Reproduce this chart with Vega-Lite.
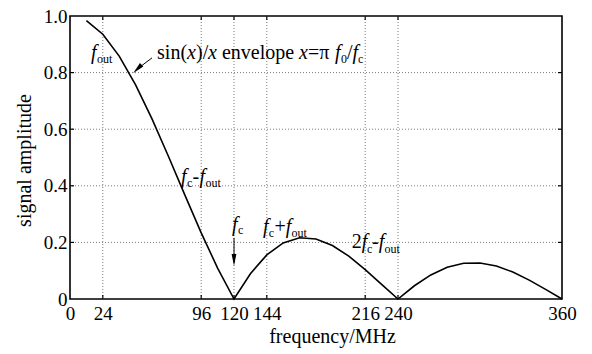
{
  "$schema": "https://vega.github.io/schema/vega-lite/v6.json",
  "width": 492,
  "height": 283,
  "autosize": {"type": "none"},
  "padding": {"left": 70, "top": 16, "right": 30, "bottom": 55},
  "background": "white",
  "config": {
    "view": {"stroke": "black", "strokeWidth": 1.6},
    "axis": {
      "labelFont": "Liberation Serif",
      "titleFont": "Liberation Serif",
      "labelFontSize": 19,
      "titleFontSize": 20,
      "titleFontWeight": "normal",
      "labelColor": "black",
      "titleColor": "black",
      "domain": false,
      "grid": false,
      "ticks": false,
      "labelFlush": false
    },
    "text": {"font": "Liberation Serif", "fill": "black"}
  },
  "datasets": {
    "curve": [
      {"f": 12, "a": 0.9836}, {"f": 24, "a": 0.9355}, {"f": 36, "a": 0.8584},
      {"f": 48, "a": 0.7568}, {"f": 60, "a": 0.6366}, {"f": 72, "a": 0.5046},
      {"f": 84, "a": 0.3679}, {"f": 96, "a": 0.2339}, {"f": 108, "a": 0.1093},
      {"f": 120, "a": 0}, {"f": 132, "a": 0.0894}, {"f": 144, "a": 0.1559},
      {"f": 156, "a": 0.1981}, {"f": 168, "a": 0.2162}, {"f": 180, "a": 0.2122},
      {"f": 192, "a": 0.1892}, {"f": 204, "a": 0.1515}, {"f": 216, "a": 0.1039},
      {"f": 228, "a": 0.0518}, {"f": 240, "a": 0}, {"f": 252, "a": 0.0468},
      {"f": 264, "a": 0.085}, {"f": 276, "a": 0.112}, {"f": 288, "a": 0.1261},
      {"f": 300, "a": 0.1273}, {"f": 312, "a": 0.1164}, {"f": 324, "a": 0.0954},
      {"f": 336, "a": 0.0668}, {"f": 348, "a": 0.0339}, {"f": 360, "a": 0}
    ],
    "xTicks": [{"v": 24}, {"v": 96}, {"v": 120}, {"v": 144}, {"v": 216}, {"v": 240}],
    "yTicks": [{"v": 0.2}, {"v": 0.4}, {"v": 0.6}, {"v": 0.8}],
    "roman": [
      {"x": 63.7, "y": 0.848, "t": "sin("},
      {"x": 92.2, "y": 0.848, "t": ")/"},
      {"x": 111.2, "y": 0.848, "t": "envelope"},
      {"x": 174.1, "y": 0.848, "t": "=π"},
      {"x": 202.7, "y": 0.848, "t": "/"},
      {"x": 89.6, "y": 0.41, "t": "-"},
      {"x": 149.6, "y": 0.233, "t": "+"},
      {"x": 206.2, "y": 0.18, "t": "2"},
      {"x": 221.0, "y": 0.18, "t": "-"}
    ],
    "italic": [
      {"x": 15.4, "y": 0.848, "t": "f"},
      {"x": 85.6, "y": 0.848, "t": "x"},
      {"x": 100.9, "y": 0.848, "t": "x"},
      {"x": 167.6, "y": 0.848, "t": "x"},
      {"x": 193.9, "y": 0.848, "t": "f"},
      {"x": 206.7, "y": 0.848, "t": "f"},
      {"x": 81.2, "y": 0.41, "t": "f"},
      {"x": 94.7, "y": 0.41, "t": "f"},
      {"x": 118.5, "y": 0.24, "t": "f"},
      {"x": 141.2, "y": 0.233, "t": "f"},
      {"x": 157.8, "y": 0.233, "t": "f"},
      {"x": 213.4, "y": 0.18, "t": "f"},
      {"x": 225.9, "y": 0.18, "t": "f"}
    ],
    "sub": [
      {"x": 19.8, "y": 0.834, "t": "out"},
      {"x": 198.3, "y": 0.834, "t": "0"},
      {"x": 210.8, "y": 0.834, "t": "c"},
      {"x": 85.6, "y": 0.396, "t": "c"},
      {"x": 99.1, "y": 0.396, "t": "out"},
      {"x": 122.9, "y": 0.23, "t": "c"},
      {"x": 145.5, "y": 0.219, "t": "c"},
      {"x": 162.0, "y": 0.219, "t": "out"},
      {"x": 217.3, "y": 0.163, "t": "c"},
      {"x": 230.2, "y": 0.163, "t": "out"}
    ],
    "arrows": [
      {"x": 60.0, "y": 0.852, "x2": 49.3, "y2": 0.813},
      {"x": 120, "y": 0.216, "x2": 120, "y2": 0.13}
    ],
    "headDiag": [{"x": 49.3, "y": 0.813}],
    "headDown": [{"x": 120, "y": 0.138}]
  },
  "layer": [
    {
      "data": {"name": "xTicks"},
      "mark": {"type": "rule", "stroke": "#7a7a7a", "strokeWidth": 1, "strokeDash": [1, 2]},
      "encoding": {"x": {"field": "v", "type": "quantitative"}}
    },
    {
      "data": {"name": "yTicks"},
      "mark": {"type": "rule", "stroke": "#7a7a7a", "strokeWidth": 1, "strokeDash": [1, 2]},
      "encoding": {"y": {"field": "v", "type": "quantitative"}}
    },
    {
      "data": {"name": "xTicks"},
      "mark": {"type": "rule", "stroke": "black", "strokeWidth": 1.2},
      "encoding": {
        "x": {"field": "v", "type": "quantitative"},
        "y": {"datum": 0},
        "y2": {"datum": 0.0141}
      }
    },
    {
      "data": {"name": "xTicks"},
      "mark": {"type": "rule", "stroke": "black", "strokeWidth": 1.2},
      "encoding": {
        "x": {"field": "v", "type": "quantitative"},
        "y": {"datum": 1},
        "y2": {"datum": 0.9859}
      }
    },
    {
      "data": {"name": "yTicks"},
      "mark": {"type": "rule", "stroke": "black", "strokeWidth": 1.2},
      "encoding": {
        "y": {"field": "v", "type": "quantitative"},
        "x": {"datum": 0},
        "x2": {"datum": 2.93}
      }
    },
    {
      "data": {"name": "yTicks"},
      "mark": {"type": "rule", "stroke": "black", "strokeWidth": 1.2},
      "encoding": {
        "y": {"field": "v", "type": "quantitative"},
        "x": {"datum": 360},
        "x2": {"datum": 357.07}
      }
    },
    {
      "data": {"name": "curve"},
      "mark": {"type": "line", "stroke": "black", "strokeWidth": 1.6},
      "encoding": {
        "x": {
          "field": "f", "type": "quantitative",
          "scale": {"domain": [0, 360], "nice": false},
          "axis": {
            "orient": "bottom",
            "values": [0, 24, 96, 120, 144, 216, 240, 360],
            "title": "frequency/MHz",
            "labelPadding": 5,
            "titleX": 262,
            "titleY": 43,
            "titleBaseline": "alphabetic",
            "titleAnchor": "start",
            "titleAlign": "center"
          }
        },
        "y": {
          "field": "a", "type": "quantitative",
          "scale": {"domain": [0, 1], "nice": false},
          "axis": {
            "orient": "left",
            "values": [0, 0.2, 0.4, 0.6, 0.8, 1],
            "labelExpr": "datum.value == 0 ? '0' : format(datum.value, '.1f')",
            "labelPadding": 3,
            "title": "signal amplitude",
            "titleAngle": -90,
            "titleX": -40,
            "titleY": 144,
            "titleBaseline": "alphabetic",
            "titleAlign": "center",
            "titleAnchor": "start"
          }
        }
      }
    },
    {
      "data": {"name": "arrows"},
      "mark": {"type": "rule", "stroke": "black", "strokeWidth": 1},
      "encoding": {
        "x": {"field": "x", "type": "quantitative"},
        "y": {"field": "y", "type": "quantitative"},
        "x2": {"field": "x2"},
        "y2": {"field": "y2"}
      }
    },
    {
      "data": {"name": "headDiag"},
      "mark": {"type": "point", "shape": "M-0.4,-1L0,1L0.4,-1Z", "filled": true, "fill": "black", "stroke": null, "size": 144, "angle": 45, "opacity": 1},
      "encoding": {
        "x": {"field": "x", "type": "quantitative"},
        "y": {"field": "y", "type": "quantitative"}
      }
    },
    {
      "data": {"name": "headDown"},
      "mark": {"type": "point", "shape": "M-0.4,-1L0,1L0.4,-1Z", "filled": true, "fill": "black", "stroke": null, "size": 144, "opacity": 1},
      "encoding": {
        "x": {"field": "x", "type": "quantitative"},
        "y": {"field": "y", "type": "quantitative"}
      }
    },
    {
      "data": {"name": "roman"},
      "mark": {"type": "text", "align": "left", "baseline": "alphabetic", "fontSize": 20},
      "encoding": {
        "x": {"field": "x", "type": "quantitative"},
        "y": {"field": "y", "type": "quantitative"},
        "text": {"field": "t"}
      }
    },
    {
      "data": {"name": "italic"},
      "mark": {"type": "text", "align": "left", "baseline": "alphabetic", "fontSize": 20, "fontStyle": "italic"},
      "encoding": {
        "x": {"field": "x", "type": "quantitative"},
        "y": {"field": "y", "type": "quantitative"},
        "text": {"field": "t"}
      }
    },
    {
      "data": {"name": "sub"},
      "mark": {"type": "text", "align": "left", "baseline": "alphabetic", "fontSize": 12},
      "encoding": {
        "x": {"field": "x", "type": "quantitative"},
        "y": {"field": "y", "type": "quantitative"},
        "text": {"field": "t"}
      }
    }
  ]
}
